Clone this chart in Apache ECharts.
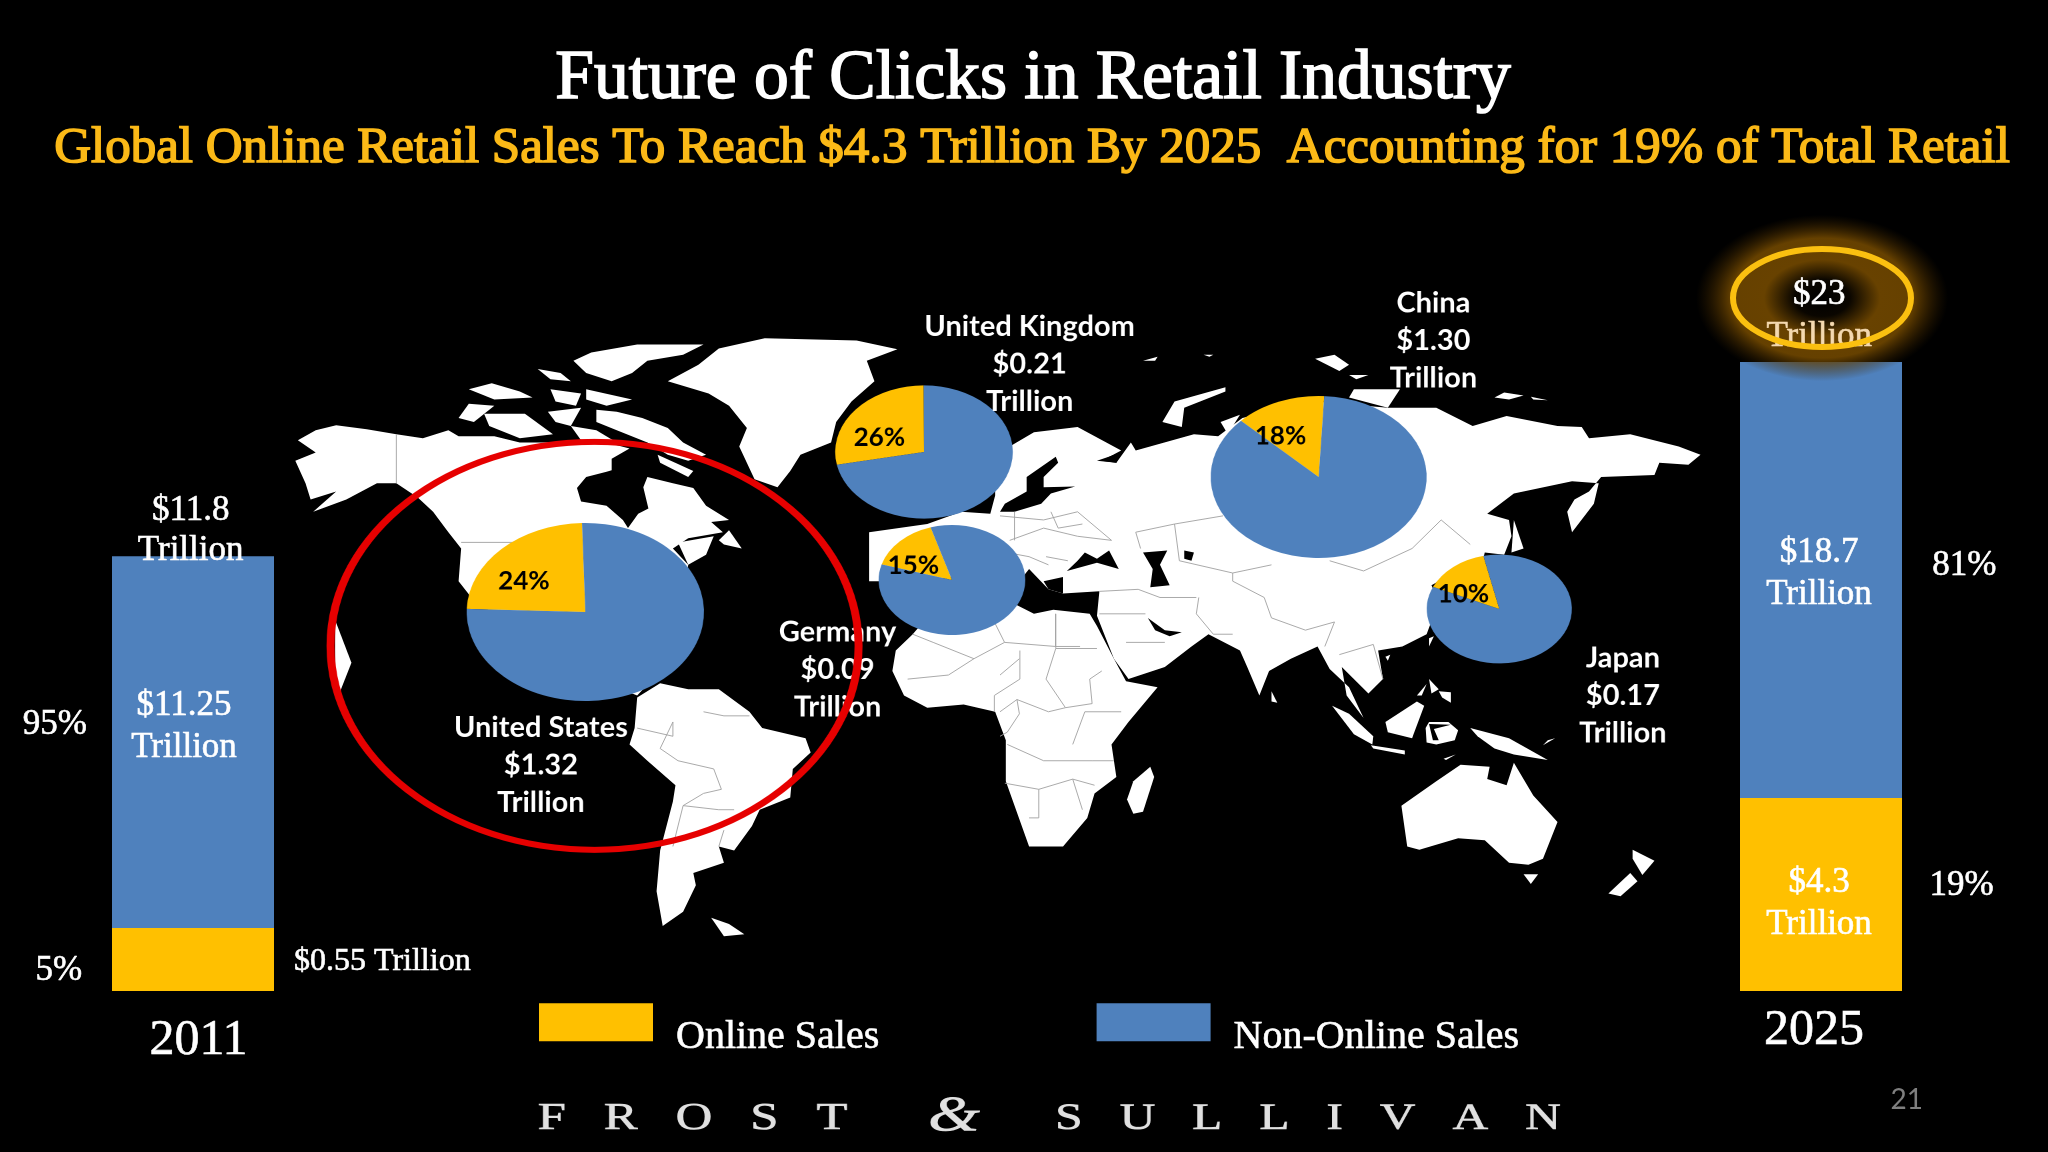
<!DOCTYPE html>
<html><head><meta charset="utf-8">
<style>
html,body{margin:0;padding:0;background:#000;width:2048px;height:1152px;overflow:hidden}
#a{position:absolute;left:0;top:0;width:2048px;height:1152px}
/* The pies in the reference are stretched (a 4:3 slide shown at 16:9), so they sit in a stretched overlay chart. */
#b{position:absolute;left:0;top:0;width:1536px;height:1152px;transform-origin:0 0;transform:scaleX(1.33333)}
</style>
<script src="https://cdn.jsdelivr.net/npm/echarts@6/dist/echarts.min.js"></script>
</head><body><div id="a"></div><div id="b"></div>
<script>
// ---- data ----
const years = ['2011', '2025'];
const seriesNames = ['Online Sales', 'Non-Online Sales'];
// Segment heights as drawn in the picture (the picture's bars are not to scale with their captions),
// in percent of the 2025 bar's total height.
const onlineDrawn = [10.0, 30.7];
const nonOnlineDrawn = [59.1, 69.3];
const onlineCaptions = ['$0.55 Trillion', '$4.3\nTrillion'];
const nonOnlineCaptions = ['$11.25\nTrillion', '$18.7\nTrillion'];
const totalCaptions = ['$11.8\nTrillion', '$23'];
const sharesNon = ['95%', '81%'];
const sharesOn = ['5%', '19%'];
const countries = ['United States', 'United Kingdom', 'Germany', 'China', 'Japan'];
const countrySales = ['$1.32', '$0.21', '$0.09', '$1.30', '$0.17'];
const countryShareLabels = ['24%', '26%', '15%', '18%', '10%'];
// online wedge as drawn in the picture, percent of each pie
const countryWedgeDrawn = [24, 28, 15.7, 13.6, 14.8];

// ---- layout helpers: d = coordinates in a 1568-wide view of the reference ----
const K = 1.306, SX = 0.98;
const z1 = p => [(214.4 + p[0] * 0.3907) * K, (245 + p[1] * 0.3125) * K];
const z2 = p => [(765.7 + p[0] * 0.3712) * K, (245 + p[1] * 0.3125) * K];

const SERIF = '"Liberation Serif","DejaVu Serif",serif';
const SANS = 'Lato,"Open Sans",sans-serif';
const BLUE = '#4f81bd', GOLD = '#ffc000';

// ---- backdrop world map outline (decoration, hand traced) ----
const land1 = [
 [[35,295],[70,270],[110,258],[170,268],[228,280],[280,290],[330,270],[350,285],[420,285],[470,300],[560,300],[640,300],[685,315],[650,340],[650,368],[640,372],[600,385],[582,412],[590,445],[640,455],[672,490],[682,510],[702,475],[722,462],[712,410],[720,385],[770,400],[810,412],[835,455],[880,490],[845,495],[868,520],[800,535],[770,560],[800,600],[790,680],[760,840],[700,920],[660,900],[500,800],[420,720],[375,680],[350,640],[355,560],[330,520],[300,470],[270,435],[228,400],[190,400],[130,440],[65,470],[110,420],[60,440],[50,400],[30,345],[70,325]],
 [[780,545],[850,530],[835,575],[800,600]],
 [[860,540],[880,515],[905,560],[870,550]],
 [[620,220],[660,225],[710,240],[760,265],[790,300],[835,330],[800,345],[760,330],[720,300],[660,270],[620,250]],
 [[740,330],[810,370],[800,385],[745,350]],
 [[400,230],[480,230],[535,280],[470,290],[410,260]],
 [[350,240],[370,205],[420,210],[380,250]],
 [[610,80],[700,60],[830,60],[790,85],[720,100],[690,130],[650,150],[600,130],[575,100]],
 [[505,120],[550,130],[570,150],[530,145]],
 [[370,170],[415,155],[470,175],[495,190],[420,195]],
 [[530,170],[590,180],[580,210],[540,200]],
 [[525,225],[590,215],[570,260],[540,250]],
 [[570,260],[620,270],[660,300],[590,295]],
 [[600,170],[690,195],[640,210],[600,195]],
 [[760,150],[820,110],[860,70],[950,45],[1130,50],[1210,72],[1150,100],[1165,150],[1120,200],[1090,250],[1080,300],[1020,330],[1000,370],[975,410],[930,390],[900,310],[915,265],[880,210],[840,180]],
 [[700,925],[745,890],[800,905],[860,905],[920,960],[945,1000],[1030,1025],[1040,1060],[1005,1100],[1000,1170],[940,1200],[925,1240],[890,1300],[860,1290],[870,1330],[810,1355],[815,1385],[790,1450],[750,1485],[738,1400],[745,1300],[770,1180],[775,1140],[720,1080],[685,1040],[695,1000]],
 [[845,1465],[880,1480],[910,1505],[870,1510]],
 [[108,735],[140,840],[118,910],[108,880]]
];
const land2 = [
 // Africa
 [[-180,770],[-215,810],[-222,860],[-198,920],[-150,950],[-75,942],[-10,960],[12,1030],[12,1130],[60,1290],[130,1290],[180,1220],[195,1160],[240,1120],[230,1040],[265,985],[325,900],[260,885],[235,830],[200,750],[185,720],[110,710],[70,720],[20,690],[-60,680],[-130,700]],
 // Eurasia
 [[-270,640],[-270,520],[-150,500],[-80,470],[-20,475],[-10,430],[-10,360],[20,310],[70,275],[160,262],[250,320],[210,345],[240,350],[270,300],[280,320],[400,280],[450,285],[500,240],[650,200],[800,215],[900,215],[975,260],[1045,235],[1150,260],[1200,262],[1215,290],[1300,280],[1400,310],[1445,330],[1420,355],[1360,350],[1350,380],[1240,385],[1215,420],[1185,440],[1170,470],[1180,520],[1225,450],[1235,400],[1180,395],[1060,425],[1005,475],[1050,490],[1055,530],[1040,575],[1000,570],[985,640],[950,610],[890,650],[905,690],[880,770],[830,800],[780,810],[790,880],[760,915],[705,850],[715,920],[750,975],[720,900],[680,855],[655,800],[600,830],[555,860],[535,920],[510,850],[495,810],[430,770],[395,800],[340,850],[265,880],[235,830],[200,725],[205,665],[130,670],[100,660],[60,610],[40,640],[-60,620],[-150,640]],
 // islands
 [[335,250],[360,200],[465,165],[465,175],[380,215],[375,262]],
 [[295,100],[325,90],[320,100]], [[420,85],[440,85],[432,90]],
 [[650,95],[690,85],[720,110],[700,125]], [[720,135],[760,135],[735,145]],
 [[1020,190],[1040,178],[1080,185],[1050,195]], [[1095,188],[1130,197],[1100,195]],
 [[730,170],[825,170],[800,215],[720,190]],
 [[455,250],[495,232],[470,280]],
 [[1060,490],[1080,560],[1055,570]],
 [[885,780],[895,775],[885,800]], [[795,825],[805,820],[800,835]],
 [[560,910],[572,938],[560,935]],
 [[685,945],[720,965],[770,1020],[768,1040],[730,1015]],
 [[765,1042],[835,1055],[835,1065],[770,1050]],
 [[795,985],[860,935],[875,945],[850,1025],[800,1010]],
 [[878,1000],[885,985],[925,985],[945,1005],[938,1030],[900,1040],[880,1035]],
 [[885,880],[905,905],[890,915]], [[905,910],[930,912],[930,938],[912,925]], [[860,920],[880,892],[870,920]],
 [[970,1000],[1050,1025],[1130,1078],[1060,1065],[1020,1050],[985,1020]],
 [[1130,1030],[1145,1025],[1120,1042]], [[915,1075],[940,1065],[920,1078]],
 [[828,1190],[900,1130],[950,1090],[1010,1095],[1005,1125],[1045,1140],[1060,1085],[1100,1165],[1150,1230],[1120,1320],[1090,1335],[1050,1330],[1000,1275],[945,1270],[865,1298],[840,1290]],
 [[1080,1358],[1110,1358],[1095,1382]],
 [[1305,1298],[1350,1325],[1325,1360],[1305,1320]], [[1300,1355],[1315,1375],[1280,1412],[1255,1405]],
 [[310,1095],[318,1120],[295,1205],[275,1210],[262,1175],[275,1130]]
];
const seas2 = [
 [[55,385],[115,335],[120,350],[90,385],[90,410],[155,408],[105,425],[85,450],[30,470],[0,470],[10,450],[55,420]],
 [[138,615],[160,590],[175,570],[200,585],[225,565],[245,610],[200,595]],
 [[295,570],[345,565],[330,600],[350,650],[310,655],[315,610]],
 [[380,565],[400,570],[395,590],[380,585]],
 [[90,640],[130,630],[130,670],[100,660]],
 [[305,730],[340,760],[375,765],[350,775],[320,760]],
 [[200,345],[250,325],[240,350]],
 [[885,990],[893,1030],[905,1030],[895,1002],[930,992]]
];
const borders1 = [
 [[228,280],[228,400]], [[355,545],[460,545]],
 [[770,985],[745,1050],[780,1080],[850,1100],[865,1150],[830,1160],[790,1190],[770,1290]],
 [[830,960],[870,970],[920,970]], [[790,1190],[860,1200],[890,1200]], [[870,1250],[860,1290]],
 [[700,1000],[770,1020],[770,985]],
 [[1240,770],[1280,790],[1360,830],[1420,790],[1520,800],[1568,800]], [[1420,790],[1400,740]],
 [[1360,830],[1310,870],[1230,880]], [[1450,810],[1450,880],[1400,920],[1400,960]], [[1520,720],[1520,800]]
];
const borders2 = [
 [[115,720],[115,805],[200,805]], [[115,805],[95,880],[135,950],[100,960],[35,930],[0,960]],
 [[135,950],[190,940],[185,880],[210,860]], [[40,830],[0,870]], [[35,930],[40,965],[15,1010],[0,1020]],
 [[15,1040],[90,1080],[190,1080],[235,1080]], [[10,1135],[80,1150],[150,1125],[195,1140]],
 [[80,1150],[80,1220],[60,1220]], [[150,1125],[170,1200]], [[175,960],[250,960]], [[175,960],[150,1040]],
 [[280,520],[360,500],[460,480]], [[280,520],[290,560]], [[370,590],[480,620],[560,600]],
 [[410,680],[405,720],[440,770]], [[480,640],[545,680],[560,730],[630,760],[690,740],[670,800]],
 [[680,590],[750,615],[850,560],[910,490],[970,550]], [[285,660],[330,680],[405,680]], [[205,665],[285,660]],
 [[205,720],[300,720]], [[260,790],[340,790]], [[440,770],[480,770]], [[700,820],[770,795],[790,880]],
 [[0,480],[90,490],[160,470],[230,540]], [[20,540],[90,510],[160,530]], [[95,580],[140,590]], [[-30,560],[60,580],[100,600]],
 [[30,470],[30,540]], [[105,470],[120,510],[170,500]], [[160,530],[230,540]], [[360,500],[370,590]], [[480,620],[480,640]]
];
const poly = (pts, fill) => ({type:'polygon', silent:true, z:1, shape:{points:pts}, style:{fill:fill}});
const line = pts => ({type:'polyline', silent:true, z:1, shape:{points:pts}, style:{stroke:'#a0a0a0', lineWidth:0.9, fill:null}});
const mapEls = [
 ...land1.map(p => poly(p.map(z1), '#fff')),
 ...land2.map(p => poly(p.map(z2), '#fff')),
 ...seas2.map(p => poly(p.map(z2), '#000')),
 ...borders1.map(p => line(p.map(z1))),
 ...borders2.map(p => line(p.map(z2)))
];

// ---- text helpers ----
const textStyle = (text, size, o) => {
  const c = o.color || '#fff';
  return {text, fill:c, stroke:c, lineWidth:o.stroke === undefined ? 0.6 : o.stroke,
    font:`${o.weight || 'normal'} ${size}px ${o.family || SERIF}`, textAlign:'center', textVerticalAlign:'middle'};
};
// plain chart: position in the 1568-wide view -> chart px
const txtA = (text, x, y, size, o = {}) => ({type:'text', silent:true, z:o.z || 8, x:x * K, y:y * K, style:textStyle(text, size, o)});
// stretched overlay: text is squeezed back so that it keeps its normal proportions unless keep is set
const txtB = (text, x, y, size, o = {}) => ({type:'text', silent:true, z:o.z || 8, x:x * SX, y:y * K, scaleX:o.keep ? 1 : 0.75, style:textStyle(text, size, o)});

const capPos = [[414,557],[788,250],[641,484],[1097,232],[1242,504]];
const capEls = [];
countries.forEach((n, i) => {
  const [x, y] = capPos[i];
  [n, countrySales[i], 'Trillion'].forEach((s, k) =>
    capEls.push(txtB(s, x, y + k * 28.7, 29, {family:SANS, weight:'bold', stroke:0})));
});
const shareLabelPos = [[401,445],[673,335],[699,433],[980,334],[1120,455]];
const shareEls = countries.map((n, i) =>
  txtB(countryShareLabels[i], shareLabelPos[i][0], shareLabelPos[i][1], 26, {family:SANS, weight:'bold', color:'#000', z:9, stroke:0}));

// pies
const pieGeom = [
 {c:[439,612], r:89, start:178},
 {c:[693,452], r:66.6, start:191},
 {c:[714,580], r:55, start:163.5},
 {c:[989,477], r:81, start:136},
 {c:[1124.5,609], r:54.4, start:156}
];
const pieSeries = countries.map((n, i) => ({
  type:'pie', name:n, center:pieGeom[i].c, radius:pieGeom[i].r, startAngle:pieGeom[i].start,
  clockwise:true, silent:true, z:4, animation:false,
  label:{show:false}, labelLine:{show:false},
  data:[
   {name:seriesNames[0], value:countryWedgeDrawn[i], itemStyle:{color:GOLD}},
   {name:seriesNames[1], value:100 - countryWedgeDrawn[i], itemStyle:{color:BLUE}}
  ]
}));

const barLabel = (text, o = {}) => ({show:true, formatter:text, color:'#fff', textBorderColor:'#fff', textBorderWidth:0.6, fontFamily:SERIF, fontSize:o.size || 35, lineHeight:42,
  position:o.pos || 'inside', offset:o.off || [0,0], distance:o.dist});
const barSeries = (idx) => [
 {type:'bar', name:seriesNames[0], stack:'s' + idx, xAxisIndex:idx, yAxisIndex:idx, barWidth:'100%', z:3, silent:true, animation:false,
  itemStyle:{color:GOLD}, data:[onlineDrawn[idx]],
  label: idx === 0 ? barLabel(onlineCaptions[0], {pos:'right', dist:20, off:[0,2], size:32}) : barLabel(onlineCaptions[1], {off:[-2,9]})},
 {type:'bar', name:seriesNames[1], stack:'s' + idx, xAxisIndex:idx, yAxisIndex:idx, barWidth:'100%', z:3, silent:true, animation:false,
  itemStyle:{color:BLUE}, data:[nonOnlineDrawn[idx]],
  label: idx === 0 ? barLabel(nonOnlineCaptions[0], {off:[-9,-15]}) : barLabel(nonOnlineCaptions[1], {off:[-2,-6]})}
];

const gridBase = {top:362, height:629, width:162};
const chartA = echarts.init(document.getElementById('a'), null, {width:2048, height:1152});
chartA.setOption({
  backgroundColor:'#000',
  animation:false,
  grid:[{...gridBase, left:112}, {...gridBase, left:1740}],
  xAxis:[0,1].map(i => ({gridIndex:i, type:'category', data:[years[i]], axisLine:{show:false}, axisTick:{show:false},
    axisLabel:{color:'#fff', textBorderColor:'#fff', textBorderWidth:0.6, fontFamily:SERIF, fontSize:50, margin:i ? 15 : 25, padding:i ? [0,14,0,0] : [0,0,0,11]}})),
  yAxis:[0,1].map(i => ({gridIndex:i, type:'value', min:0, max:100, show:false, splitLine:{show:false}})),
  legend:{show:true, left:534, top:982, itemWidth:114, itemHeight:38, itemGap:217, icon:'rect',
    data:seriesNames, selectedMode:false, formatter:'\n{name}',
    textStyle:{color:'#fff', textBorderColor:'#fff', textBorderWidth:0.6, fontFamily:SERIF, fontSize:40, lineHeight:30, padding:[0,0,0,18]}},
  title:[
    {text:'Future of Clicks in Retail Industry', left:1028, top:40, textAlign:'center',
     textStyle:{color:'#fff', fontFamily:SERIF, fontSize:69.5, fontWeight:'normal', textBorderColor:'#fff', textBorderWidth:1.6}},
    {text:'Global Online Retail Sales To Reach $4.3 Trillion By 2025  Accounting for 19% of Total Retail', left:1027, top:118, textAlign:'center',
     textStyle:{color:'#fbb917', fontFamily:SERIF, fontSize:51, fontWeight:'normal', textBorderColor:'#fbb917', textBorderWidth:1.6}}
  ],
  series:[...barSeries(0), ...barSeries(1)],
  graphic:[
    ...mapEls,
    // glow + highlight ring at the 2025 total
    {type:'circle', silent:true, z:5, x:1822, y:298, scaleY:0.66, shape:{cx:0, cy:0, r:126},
     style:{fill:new echarts.graphic.RadialGradient(0.5,0.5,0.5,[
       {offset:0,color:'rgba(0,0,0,1)'},{offset:0.22,color:'rgba(10,6,0,1)'},{offset:0.46,color:'rgba(104,66,0,1)'},
       {offset:0.72,color:'rgba(110,70,0,0.92)'},{offset:1,color:'rgba(60,36,0,0)'}])}},
    {type:'ellipse', silent:true, z:9, shape:{cx:1822, cy:298, rx:89, ry:49}, style:{fill:null, stroke:'#fbc010', lineWidth:6}},
    txtA(totalCaptions[1], 1393, 226, 35),
    txtA('Trillion', 1393, 258, 35, {color:'#f4d9b0'}),
    txtA(totalCaptions[0].split('\n')[0], 146, 391, 35),
    txtA(totalCaptions[0].split('\n')[1], 146, 422, 35),
    txtA(sharesNon[0], 42, 555, 35), txtA(sharesOn[0], 45, 743, 35),
    txtA(sharesNon[1], 1504, 433, 35), txtA(sharesOn[1], 1502, 678, 35),
    txtA('21', 1460, 842, 28, {family:SANS, color:'#7f7f7f', stroke:0})
  ]
});

const chartB = echarts.init(document.getElementById('b'), null, {width:1536, height:1152, devicePixelRatio:2});
chartB.setOption({
  backgroundColor:'transparent',
  animation:false,
  series:pieSeries,
  graphic:[
    ...capEls,
    ...shareEls,
    // red highlight around the United States
    {type:'ellipse', silent:true, z:10, shape:{cx:455 * SX, cy:494.5 * K, rx:198, ry:204}, style:{fill:null, stroke:'#e60000', lineWidth:6}},
    // footer (its letters are stretched too)
    txtB('F   R   O   S   T', 530, 857, 38, {color:'#e0e0e0', keep:true}),
    txtB('&', 730, 855, 50, {color:'#e0e0e0', keep:true, weight:'italic'}),
    txtB('S   U   L   L   I   V   A   N', 1001, 857, 37, {color:'#e0e0e0', keep:true})
  ]
});
</script></body></html>
